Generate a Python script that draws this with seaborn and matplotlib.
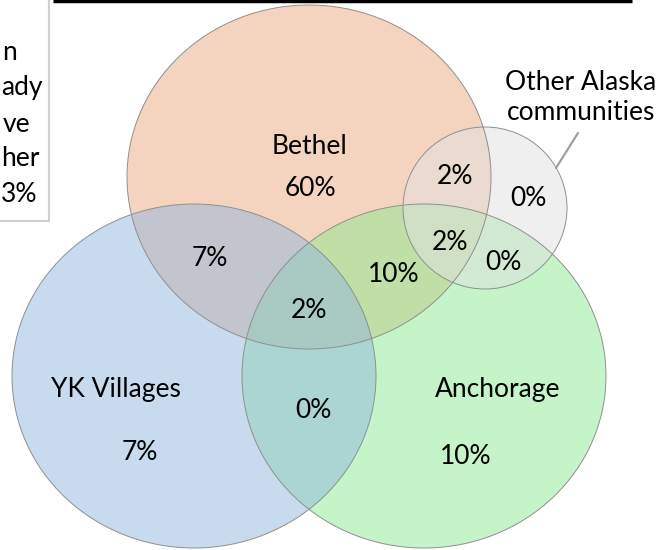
import matplotlib
matplotlib.use("Agg")
import matplotlib.pyplot as plt
from matplotlib.patches import Ellipse, Rectangle
import seaborn as sns

# sets in the diagram
set_names = ["Bethel", "Anchorage", "YK Villages", "Other Alaska\ncommunities"]
set_colors = ["#ecab81", "#8beb91", "#93b7dd", "#e1e1e1"]

# share of respondents in each region of the diagram
region_values = ["60%", "7%", "10%", "2%", "7%", "0%", "10%", "2%", "0%", "2%", "0%"]

# cut-off side note on the left
note_lines = ["n", "ady", "ve", "her", "3%"]

# layout in pixel coordinates (x right, y down)
set_centers = [(309, 177), (424, 376), (194, 376), (485, 208)]
set_sizes = [(364, 344), (364, 344), (364, 344), (164, 162)]
name_pos = [(309, 146), (498, 389), (116, 389), (581, 98)]
region_pos = [(310, 188), (210, 258), (394, 275), (309, 311), (140, 452), (313, 411),
              (466, 457), (455, 177), (528, 198), (450, 243), (503, 262)]
note_pos = [(2, 53), (1, 88), (3, 124), (1, 158), (1, 194)]

sns.set_theme(style="white")
plt.rcParams["font.family"] = ["Lato", "DejaVu Sans"]
FS = 19

fig = plt.figure(figsize=(6.63, 5.5), dpi=100)
ax = fig.add_axes([0, 0, 1, 1])
ax.set_xlim(0, 663)
ax.set_ylim(550, 0)
ax.axis("off")

for (cx, cy), (w, h), col in zip(set_centers, set_sizes, set_colors):
    ax.add_patch(Ellipse((cx, cy), w, h, facecolor=col, alpha=0.5,
                         edgecolor="none", zorder=2))
    ax.add_patch(Ellipse((cx, cy), w, h, facecolor="none",
                         edgecolor="#8f8f8f", lw=0.7, zorder=3))

for name, (x, y) in zip(set_names, name_pos):
    ax.text(x, y, name, ha="center", va="center", fontsize=FS,
            color="black", linespacing=1.25, zorder=5)

for val, (x, y) in zip(region_values, region_pos):
    ax.text(x, y, val, ha="center", va="center", fontsize=FS,
            color="black", zorder=5)

# leader line to the small circle
ax.plot([578, 556], [133, 168], color="#a0a0a0", lw=1.6, zorder=4)

# side note box
ax.add_patch(Rectangle((-10, -10), 59, 231, facecolor="white",
                       edgecolor="#d0d0d0", lw=1.5, zorder=4))
for line, (x, y) in zip(note_lines, note_pos):
    ax.text(x, y, line, ha="left", va="center", fontsize=FS,
            color="black", zorder=5)

# title rule at the top
ax.plot([53, 632], [1, 1], color="black", lw=2.5, zorder=4,
        solid_capstyle="butt")

fig.savefig("out.png", dpi=100)
